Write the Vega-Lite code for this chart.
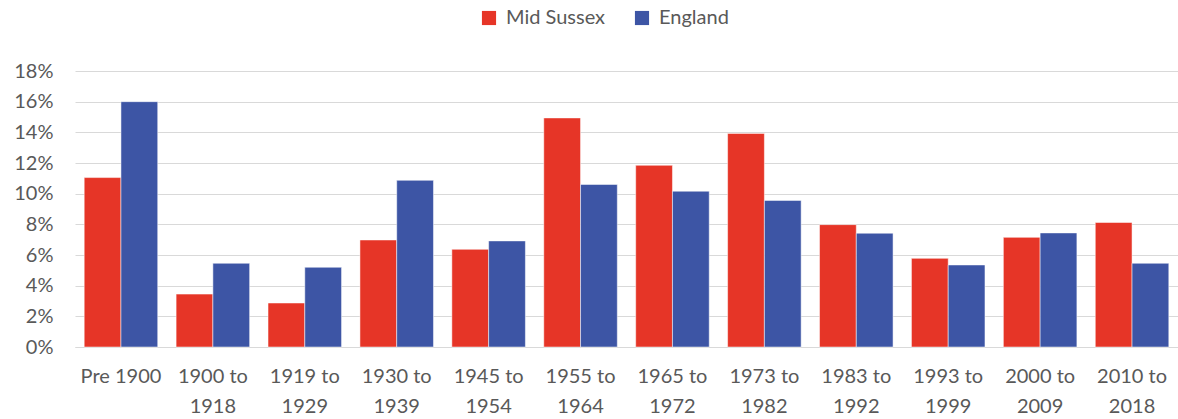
{
  "$schema": "https://vega.github.io/schema/vega-lite/v6.json",
  "autosize": {"type": "none"},
  "padding": {"left": 75, "top": 71, "right": 0, "bottom": 72},
  "width": 1103,
  "height": 276,
  "background": "white",
  "data": {"values": [
    {"period": "Pre 1900", "area": "Mid Sussex", "value": 0.1105},
    {"period": "Pre 1900", "area": "England", "value": 0.1600},
    {"period": "1900 to 1918", "area": "Mid Sussex", "value": 0.0345},
    {"period": "1900 to 1918", "area": "England", "value": 0.0546},
    {"period": "1919 to 1929", "area": "Mid Sussex", "value": 0.0287},
    {"period": "1919 to 1929", "area": "England", "value": 0.0520},
    {"period": "1930 to 1939", "area": "Mid Sussex", "value": 0.0698},
    {"period": "1930 to 1939", "area": "England", "value": 0.1087},
    {"period": "1945 to 1954", "area": "Mid Sussex", "value": 0.0637},
    {"period": "1945 to 1954", "area": "England", "value": 0.0692},
    {"period": "1955 to 1964", "area": "Mid Sussex", "value": 0.1494},
    {"period": "1955 to 1964", "area": "England", "value": 0.1060},
    {"period": "1965 to 1972", "area": "Mid Sussex", "value": 0.1185},
    {"period": "1965 to 1972", "area": "England", "value": 0.1016},
    {"period": "1973 to 1982", "area": "Mid Sussex", "value": 0.1393},
    {"period": "1973 to 1982", "area": "England", "value": 0.0956},
    {"period": "1983 to 1992", "area": "Mid Sussex", "value": 0.0798},
    {"period": "1983 to 1992", "area": "England", "value": 0.0742},
    {"period": "1993 to 1999", "area": "Mid Sussex", "value": 0.0578},
    {"period": "1993 to 1999", "area": "England", "value": 0.0535},
    {"period": "2000 to 2009", "area": "Mid Sussex", "value": 0.0715},
    {"period": "2000 to 2009", "area": "England", "value": 0.0744},
    {"period": "2010 to 2018", "area": "Mid Sussex", "value": 0.0812},
    {"period": "2010 to 2018", "area": "England", "value": 0.0546}
  ]},
  "mark": {"type": "bar", "stroke": "white", "strokeWidth": 0.5},
  "encoding": {
    "x": {
      "field": "period", "type": "nominal", "sort": null,
      "scale": {"paddingInner": 0.2, "paddingOuter": 0.1},
      "axis": {
        "title": null, "labelAngle": 0, "ticks": false,
        "domainColor": "#d9d9d9", "domainWidth": 1,
        "labelFont": "Lato", "labelFontSize": 20, "labelColor": "#595959",
        "labelPadding": 19, "labelLineHeight": 30,
        "labelExpr": "indexof(datum.label, ' to ') > 0 ? [slice(datum.label, 0, indexof(datum.label, ' to ') + 3), slice(datum.label, indexof(datum.label, ' to ') + 4)] : datum.label"
      }
    },
    "xOffset": {"field": "area", "type": "nominal", "sort": ["Mid Sussex", "England"]},
    "y": {
      "field": "value", "type": "quantitative",
      "scale": {"domain": [0, 0.18], "nice": false},
      "axis": {
        "title": null, "format": ".0%", "values": [0, 0.02, 0.04, 0.06, 0.08, 0.1, 0.12, 0.14, 0.16, 0.18],
        "domain": false, "ticks": false, "gridColor": "#d9d9d9", "gridWidth": 1,
        "labelFont": "Lato", "labelFontSize": 20, "labelColor": "#595959", "labelPadding": 22
      }
    },
    "color": {
      "field": "area", "type": "nominal",
      "scale": {"domain": ["Mid Sussex", "England"], "range": ["#E63527", "#3D55A5"]},
      "legend": {
        "title": null, "orient": "none", "direction": "horizontal",
        "legendX": 404, "legendY": -63,
        "symbolType": "square", "symbolSize": 200, "symbolStrokeWidth": 0,
        "labelFont": "Lato", "labelFontSize": 20, "labelColor": "#595959",
        "columnPadding": 26, "labelOffset": 7
      }
    }
  },
  "config": {"view": {"stroke": null}}
}
